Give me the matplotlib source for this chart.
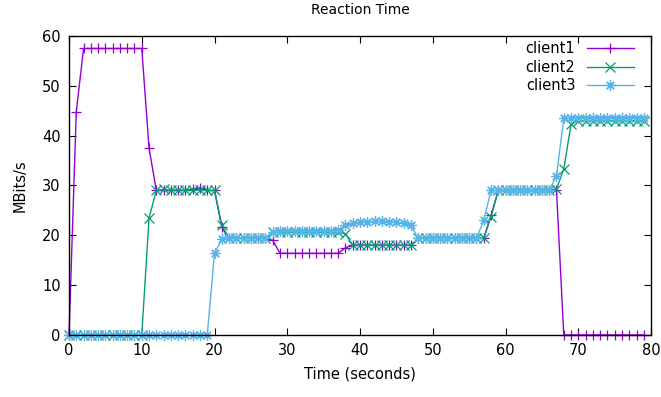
import matplotlib
matplotlib.use('Agg')
import matplotlib.pyplot as plt
import numpy as np

# data (one sample per second)
time = list(range(80))
client1 = ([0, 44.8] + [57.5] * 9 + [37.5]
           + [29, 29, 29, 29, 29, 29.3, 29.5, 29, 29]
           + [21.6] + [19.4] * 6 + [19.0] + [16.4] * 9 + [17.5]
           + [18.0] * 9 + [19.4] * 10 + [24.0] + [29] * 9 + [0] * 12)
client2 = ([0] * 11 + [23.5]
           + [29, 29.2, 29, 29.1, 29, 29, 29.1, 29, 29]
           + [22.0] + [19.4] * 6 + [20.6] * 10 + [20.3]
           + [18.0] * 9 + [19.4] * 10 + [23.7] + [29] * 8 + [29.3]
           + [33.3, 42.3] + [43.0] * 10)
client3 = ([0] * 20 + [16.4, 19.2] + [19.4] * 6
           + [20.7, 20.8, 20.9, 20.9, 20.9, 20.9, 20.9, 20.8, 20.8, 21.0]
           + [22.0] + [22.4, 22.6, 22.7, 22.8, 22.8, 22.7, 22.6, 22.4]
           + [22.0] + [19.4] * 9 + [23.0] + [29] * 9 + [32.0]
           + [43.5] * 12)

plt.rcParams['font.family'] = ['DejaVu Sans']
fig = plt.figure(figsize=(6.61, 3.97), dpi=100)
ax = fig.add_axes([0.1044, 0.1562, 0.8806, 0.7531])

series = [
    ('client1', client1, '#9400d3', '+'),
    ('client2', client2, '#009e73', 'x'),
    ('client3', client3, '#56b4e9', (8, 2, 0)),
]
for name, vals, col, mk in series:
    ax.plot(time, vals, color=col, marker=mk, markersize=7.5, lw=1,
            markeredgewidth=0.9, label=name, clip_on=False)

ax.set_xlim(0, 80)
ax.set_ylim(0, 60)
ax.set_xticks(np.arange(0, 81, 10))
ax.set_yticks(np.arange(0, 61, 10))
ax.tick_params(direction='in', length=5, top=True, right=True, labelsize=10.5,
               pad=6)
for sp in ax.spines.values():
    sp.set_linewidth(1)

ax.set_title('Reaction Time', fontsize=10, pad=16)
ax.set_xlabel('Time (seconds)', fontsize=10.5, labelpad=6)
ax.set_ylabel('MBits/s', fontsize=10.5, labelpad=10)

ax.legend(loc='upper right', frameon=False, markerfirst=False, fontsize=10.5,
          handlelength=3.2, borderpad=0.3, labelspacing=0.25,
          bbox_to_anchor=(0.99, 1.022))

fig.savefig('out.png', dpi=100)
